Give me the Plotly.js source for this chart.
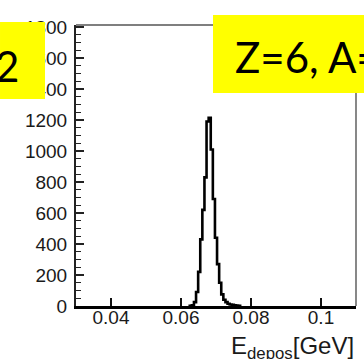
<!DOCTYPE html>
<html>
<head>
<meta charset="utf-8">
<script src="https://cdn.plot.ly/plotly-3.0.1.min.js"></script>
<style>
  html, body { margin: 0; padding: 0; background: #fff; }
  #chart { width: 364px; height: 359px; }
</style>
</head>
<body>
<div id="chart"></div>
<script>
// Deposited-energy histogram: bin centres [GeV] and entries per bin
const binCenters = [0.0622, 0.0628, 0.0634, 0.0640, 0.0646, 0.0652, 0.0658, 0.0664,
                    0.0670, 0.0676, 0.0682, 0.0688, 0.0694, 0.0700, 0.0706, 0.0712,
                    0.0718, 0.0724, 0.0730, 0.0736, 0.0742, 0.0748, 0.0754, 0.0760,
                    0.0766, 0.0772];
const binCounts  = [0, 2, 5, 25, 90, 220, 430, 620,
                    830, 1190, 1215, 1010, 690, 440, 270, 150,
                    75, 40, 25, 15, 10, 8, 5, 3,
                    2, 0];

// Axis ticks
const xTickVals = [0.04, 0.06, 0.08, 0.1];
const xTickText = ['0.04', '0.06', '0.08', '0.1'];
const yTickVals = [0, 200, 400, 600, 800, 1000, 1200, 1400, 1600, 1800];
const yTickText = ['0', '200', '400', '600', '800', '1000', '1200', '1400', '1600', '1800'];

// Labels
const leftBoxText = '2';
const rightBoxText = 'Z=6, A=';
const xTitleHtml = 'E<sub>depos</sub>[GeV]';

const tickFont = { family: 'Liberation Sans, Arial, sans-serif', size: 19, color: '#1a1a1a' };
const boxFont = { family: 'Lato, Open Sans, sans-serif', size: 42, color: '#000' };

const trace = {
  type: 'scatter',
  mode: 'lines',
  x: binCenters,
  y: binCounts,
  line: { shape: 'hvh', color: '#000', width: 2.6 },
  hoverinfo: 'skip',
  cliponaxis: true
};

const layout = {
  width: 364,
  height: 359,
  margin: { l: 76, r: 8, t: 25, b: 53, pad: 0 },
  paper_bgcolor: '#fff',
  plot_bgcolor: '#fff',
  showlegend: false,
  xaxis: {
    range: [0.03, 0.11],
    tickvals: xTickVals,
    ticktext: xTickText,
    ticks: 'inside',
    ticklen: 8,
    tickwidth: 1.5,
    tickcolor: '#111',
    showline: true,
    linecolor: '#000',
    linewidth: 3,
    showgrid: false,
    zeroline: false,
    tickfont: tickFont,
    ticklabelstandoff: -8
  },
  yaxis: {
    range: [0, 1813],
    tickvals: yTickVals,
    ticktext: yTickText,
    ticks: 'inside',
    ticklen: 8,
    tickwidth: 1.5,
    tickcolor: '#222',
    minor: { dtick: 50, ticks: 'inside', ticklen: 5, tickwidth: 1.3, tickcolor: '#222' },
    showline: true,
    linecolor: '#222',
    linewidth: 2,
    showgrid: false,
    zeroline: false,
    tickfont: tickFont,
    ticklabelstandoff: 3
  },
  shapes: [
    // frame: top and right edges
    { type: 'line', xref: 'paper', yref: 'paper', x0: 0, x1: 1, y0: 1, y1: 1,
      line: { color: '#555', width: 1.4 }, layer: 'below' },
    { type: 'line', xref: 'paper', yref: 'paper', x0: 1, x1: 1, y0: 0, y1: 1,
      line: { color: '#555', width: 1.4 }, layer: 'below' },
    // yellow label boxes
    { type: 'rect', xref: 'paper', yref: 'paper', x0: -0.2714, x1: -0.1107, y0: 0.7367, y1: 1.0107,
      fillcolor: '#ffff00', line: { width: 0 }, layer: 'above' },
    { type: 'rect', xref: 'paper', yref: 'paper', x0: 0.4893, x1: 1.0286, y0: 0.758, y1: 1.0356,
      fillcolor: '#ffff00', line: { width: 0 }, layer: 'above' }
  ],
  annotations: [
    { text: leftBoxText, xref: 'paper', yref: 'paper', x: -0.196, y: 0.854,
      xanchor: 'right', yanchor: 'middle', showarrow: false, font: boxFont },
    { text: rightBoxText, xref: 'paper', yref: 'paper', x: 0.56, y: 0.885,
      xanchor: 'left', yanchor: 'middle', showarrow: false, font: boxFont },
    { text: xTitleHtml, xref: 'paper', yref: 'paper', x: 1.0, y: -0.085,
      xanchor: 'right', yanchor: 'top', showarrow: false,
      font: { family: 'Liberation Sans, Arial, sans-serif', size: 24, color: '#1a1a1a' } }
  ]
};

Plotly.newPlot('chart', [trace], layout, { staticPlot: true, displayModeBar: false });
</script>
</body>
</html>
